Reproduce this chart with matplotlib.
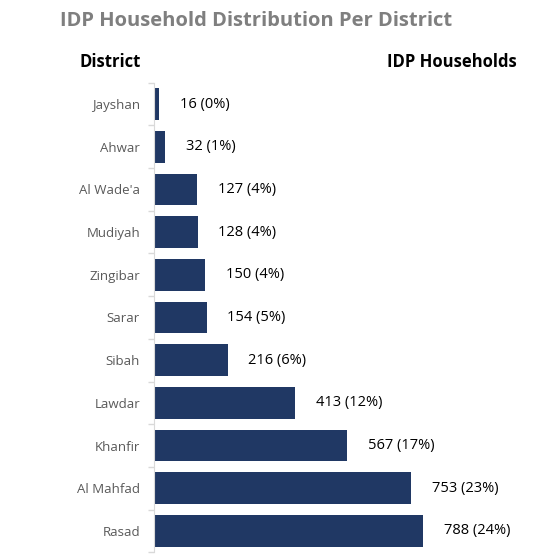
import matplotlib
matplotlib.use("Agg")
from matplotlib import pyplot as plt
import numpy as np

districts = ["Rasad", "Al Mahfad", "Khanfir", "Lawdar", "Sibah", "Sarar",
             "Zingibar", "Mudiyah", "Al Wade'a", "Ahwar", "Jayshan"]
households = [788, 753, 567, 413, 216, 154, 150, 128, 127, 32, 16]
percents = [24, 23, 17, 12, 6, 5, 4, 4, 4, 1, 0]

plt.rcParams["font.family"] = ["Open Sans", "DejaVu Sans"]

fig = plt.figure(figsize=(5.5, 5.57), dpi=100)
ax = fig.add_axes([0.28, 0.0085, 0.62, 0.843])

y = np.arange(len(districts))
ax.barh(y, households, height=0.74, color="#203864")
for yi, v, p in zip(y, households, percents):
    ax.annotate(f"{v} ({p}%)", (v, yi), xytext=(15, 0), textcoords="offset points",
                va="center", ha="left", fontsize=10.5, color="black")

ax.set_ylim(-0.5, len(districts) - 0.5)
ax.set_xlim(0, 1000)
ax.set_yticks(y)
ax.set_yticklabels(districts, fontsize=9.5, color="#595959")
ax.set_yticks(np.arange(-0.5, len(districts)), minor=True)
ax.tick_params(axis="y", which="major", length=0, pad=10)
ax.tick_params(axis="y", which="minor", length=4, color="#d9d9d9", width=1)
ax.set_xticks([])
for s in ["top", "right", "bottom"]:
    ax.spines[s].set_visible(False)
ax.spines["left"].set_color("#d9d9d9")

fig.text(0.465, 0.962, "IDP Household Distribution Per District", ha="center", va="center",
         fontsize=14.5, fontweight="bold", color="#7f7f7f")
fig.text(0.145, 0.888, "District", ha="left", va="center", fontsize=12, fontweight="bold", color="black")
fig.text(0.94, 0.888, "IDP Households", ha="right", va="center", fontsize=12, fontweight="bold", color="black")

fig.savefig("out.png", dpi=100)
